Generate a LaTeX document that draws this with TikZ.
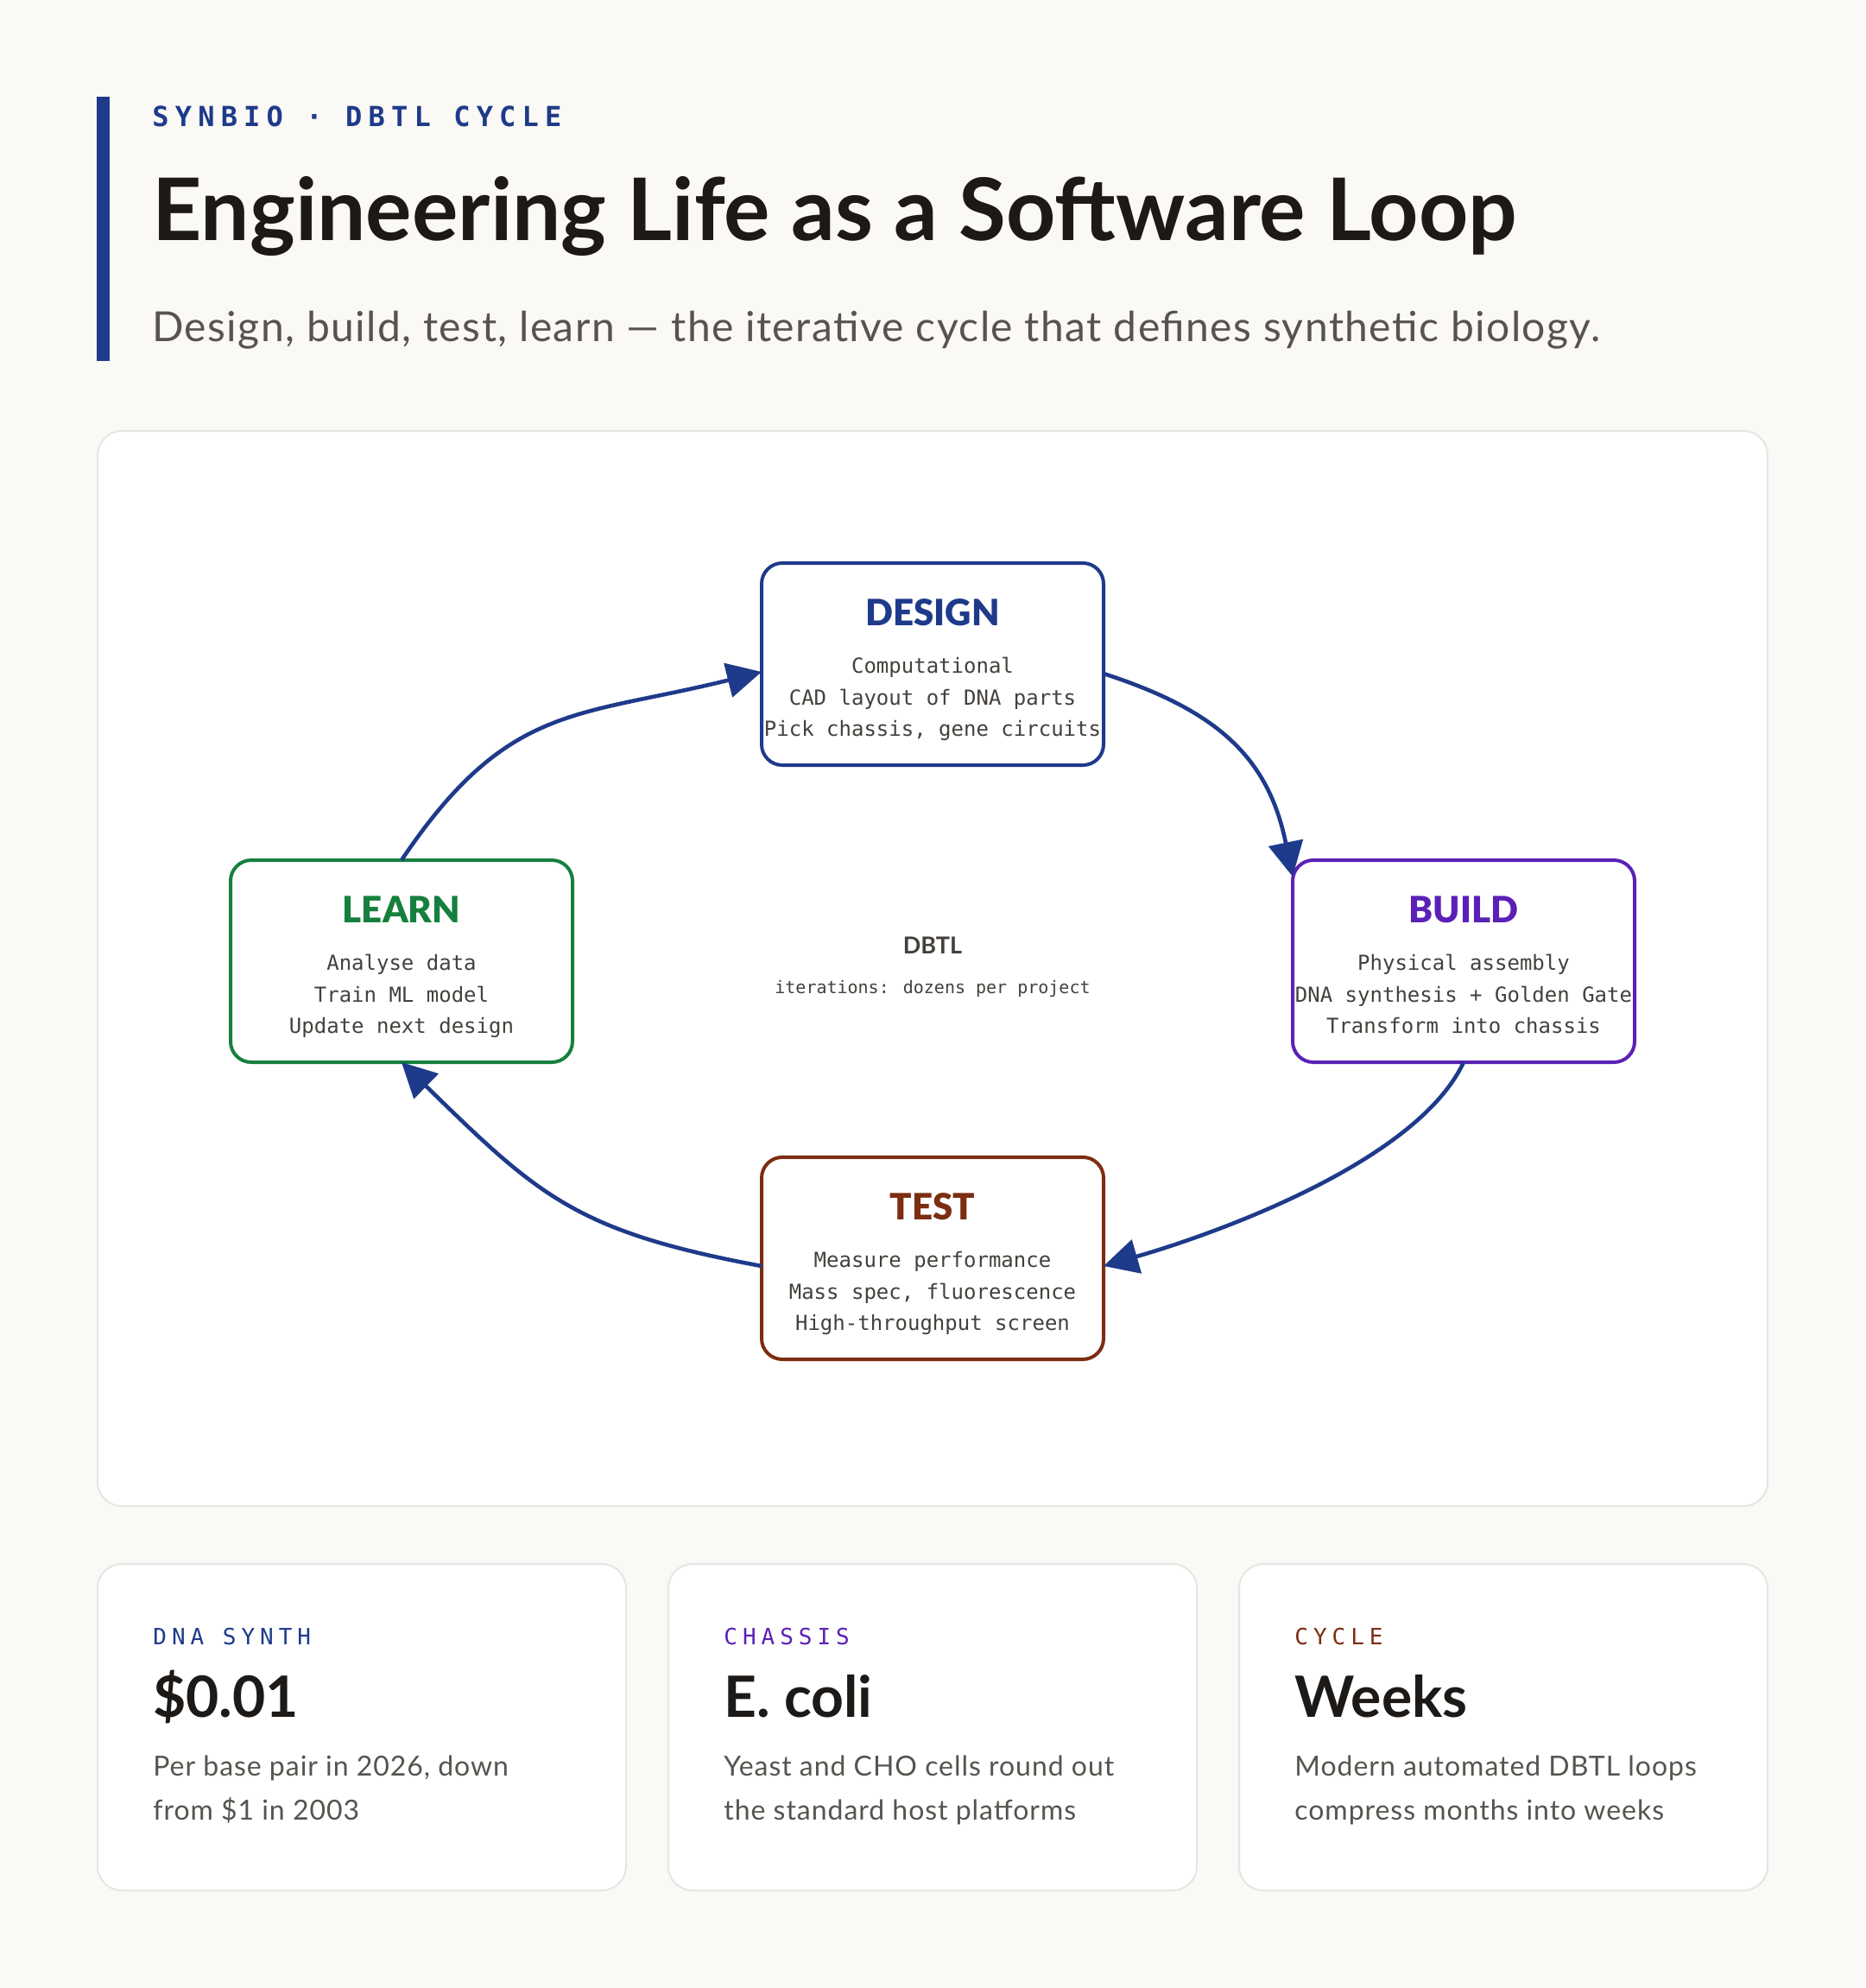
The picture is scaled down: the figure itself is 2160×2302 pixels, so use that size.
\documentclass[tikz,border=0pt]{standalone}
\usepackage{fontspec}
\setmainfont{Lato}
\newfontfamily\heavysans{Lato Black}
\newfontfamily\widesans[LetterSpace=3]{Lato}
\newfontfamily\monofont{DejaVu Sans Mono}
\newfontfamily\kickerfont[LetterSpace=22.5]{DejaVu Sans Mono}
\newfontfamily\tagfont[LetterSpace=23]{DejaVu Sans Mono}
\usetikzlibrary{arrows.meta}

\definecolor{paper}{HTML}{FAF9F5}
\definecolor{rim}{HTML}{E7E5E4}
\definecolor{dblue}{HTML}{1E3A8A}
\definecolor{grape}{HTML}{5B21B6}
\definecolor{rust}{HTML}{7C2D12}
\definecolor{leaf}{HTML}{15803D}
\definecolor{ink}{HTML}{1C1917}
\definecolor{slate}{HTML}{57534E}
\definecolor{graphite}{HTML}{44403C}

\tikzset{
  stage/.style = {draw, line width=2pt, rounded corners=12pt, fill=white,
    minimum width=198pt, minimum height=117pt, inner sep=0pt, outer sep=0pt},
  stagetitle/.style = {anchor=base, inner sep=0pt, font=\fontsize{21}{25}\selectfont\heavysans},
  stagebody/.style = {align=center, inner sep=0pt, text=graphite,
    font=\fontsize{12}{18.25}\selectfont\monofont,
    execute at begin node=\strut, execute at end node=\strut},
  cyclearrow/.style = {draw=dblue, line width=2.3pt, -{Triangle[length=20pt,width=20pt]}},
  card/.style = {draw=rim, line width=1pt, rounded corners=14pt, fill=white,
    minimum width=306pt, minimum height=189pt, inner sep=0pt, outer sep=0pt},
  cardtag/.style = {anchor=base west, inner sep=0pt, font=\fontsize{13}{16}\selectfont\tagfont},
  cardvalue/.style = {anchor=base west, inner sep=0pt, text=ink, font=\fontsize{33}{38}\selectfont\bfseries},
  carddesc/.style = {anchor=north west, align=left, inner sep=0pt, text=slate,
    font=\fontsize{16}{25.5}\selectfont\widesans, execute at begin node=\strut}
}

\begin{document}
\begin{tikzpicture}[x=0.5pt, y=-0.5pt]
\fill[paper] (0,0) rectangle (2160,2302);
\useasboundingbox (0,0) rectangle (2160,2302);

% header
\fill[dblue] (112,112) rectangle (127,418);
\node[anchor=base west, inner sep=0pt, text=dblue, font=\fontsize{16}{20}\selectfont\kickerfont\bfseries] (kicker) at (176,146) {SYNBIO · DBTL CYCLE};
\node[anchor=base west, inner sep=0pt, text=ink, font=\fontsize{50}{58}\selectfont\bfseries] (headline) at (176,278) {Engineering Life as a Software Loop};
\node[anchor=base west, inner sep=0pt, text=slate, font=\fontsize{24}{28}\selectfont\widesans] (strapline) at (176,395) {Design, build, test, learn — the iterative cycle that defines synthetic biology.};

% cycle panel
\node[draw=rim, line width=1pt, rounded corners=14pt, fill=white, minimum width=967pt, minimum height=622.5pt, inner sep=0pt] (board) at (1080,1121.5) {};

\node[stage, draw=dblue] (design) at (1080,769) {};
\node[stagetitle, text=dblue] (design-title) at ([yshift=22.5pt]design.center) {DESIGN};
\node[stagebody] (design-body) at ([yshift=-21.8pt]design.center) {Computational\\CAD layout of DNA parts\\Pick chassis, gene circuits};

\node[stage, draw=grape] (build) at (1695,1113) {};
\node[stagetitle, text=grape] (build-title) at ([yshift=22.5pt]build.center) {BUILD};
\node[stagebody] (build-body) at ([yshift=-21.8pt]build.center) {Physical assembly\\DNA synthesis + Golden Gate\\Transform into chassis};

\node[stage, draw=rust] (test) at (1080,1457) {};
\node[stagetitle, text=rust] (test-title) at ([yshift=22.5pt]test.center) {TEST};
\node[stagebody] (test-body) at ([yshift=-21.8pt]test.center) {Measure performance\\Mass spec, fluorescence\\High-throughput screen};

\node[stage, draw=leaf] (learn) at (465,1113) {};
\node[stagetitle, text=leaf] (learn-title) at ([yshift=22.5pt]learn.center) {LEARN};
\node[stagebody] (learn-body) at ([yshift=-21.8pt]learn.center) {Analyse data\\Train ML model\\Update next design};

\node[anchor=base, inner sep=0pt, text=graphite, font=\fontsize{13.5}{16}\selectfont\bfseries] (hub) at (1080,1104) {DBTL};
\node[anchor=base, inner sep=0pt, text=graphite, font=\fontsize{10}{12}\selectfont\monofont] (hub-note) at (1080,1150) {iterations: dozens per project};

\draw[cyclearrow] ([yshift=-5.5pt]design.east) .. controls +(133,43) and +(-28,-137) .. ([yshift=-9.5pt]build.north west);
\draw[cyclearrow] (build.south) .. controls +(-55,117) and +(125,-36) .. ([yshift=-4.5pt]test.east);
\draw[cyclearrow] ([yshift=-4.5pt]test.west) .. controls +(-216,-40) and +(158,154) .. (learn.south);
\draw[cyclearrow] (learn.north) .. controls +(123,-183) and +(-213,53) .. ([yshift=-4.5pt]design.west);

% fact cards
\node[card] (synth) at (419,2000) {};
\node[cardtag, text=dblue] (synth-tag) at ([xshift=32pt,yshift=-46.5pt]synth.north west) {DNA SYNTH};
\node[cardvalue] (synth-value) at ([xshift=32pt,yshift=-88.5pt]synth.north west) {\$0.01};
\node[carddesc] (synth-desc) at ([xshift=32pt,yshift=-111pt]synth.north west) {Per base pair in 2026, down\\from \$1 in 2003};

\node[card] (chassis) at (1080,2000) {};
\node[cardtag, text=grape] (chassis-tag) at ([xshift=32pt,yshift=-46.5pt]chassis.north west) {CHASSIS};
\node[cardvalue] (chassis-value) at ([xshift=32pt,yshift=-88.5pt]chassis.north west) {E. coli};
\node[carddesc] (chassis-desc) at ([xshift=32pt,yshift=-111pt]chassis.north west) {Yeast and CHO cells round out\\the standard host platforms};

\node[card] (cycle) at (1741,2000) {};
\node[cardtag, text=rust] (cycle-tag) at ([xshift=32pt,yshift=-46.5pt]cycle.north west) {CYCLE};
\node[cardvalue] (cycle-value) at ([xshift=32pt,yshift=-88.5pt]cycle.north west) {Weeks};
\node[carddesc] (cycle-desc) at ([xshift=32pt,yshift=-111pt]cycle.north west) {Modern automated DBTL loops\\compress months into weeks};
\end{tikzpicture}
\end{document}
